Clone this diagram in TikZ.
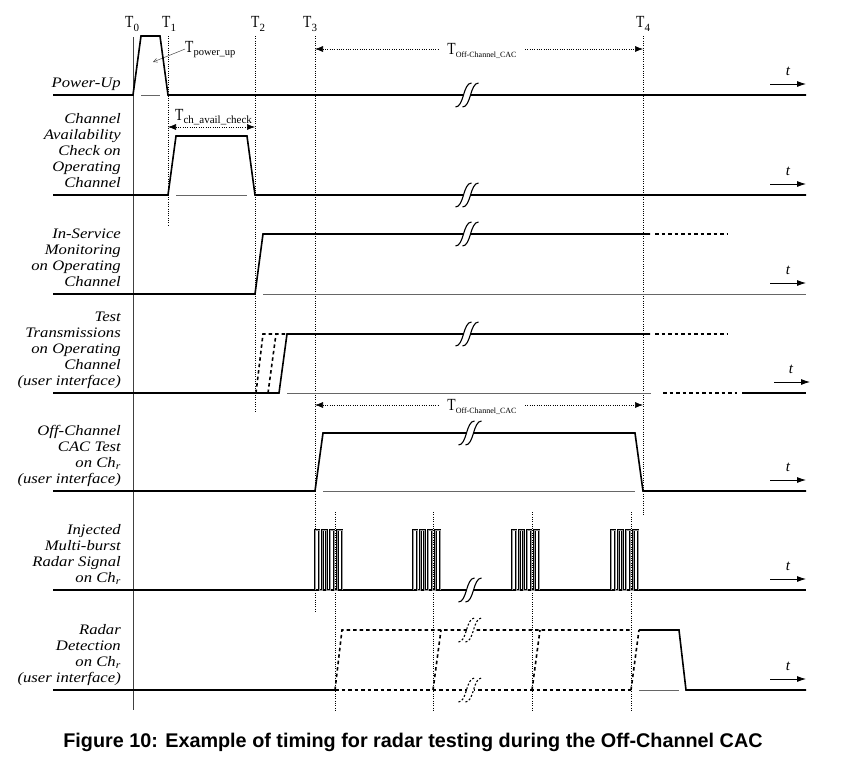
\documentclass[tikz,border=0pt]{standalone}
\usepackage{fontspec}
\setmainfont{Liberation Serif}
\newfontfamily\lblfont[FakeStretch=1.15]{Liberation Serif}
\newfontfamily\tfont[FakeStretch=0.8]{Liberation Serif}
\newfontfamily\capfont{Liberation Sans}
\usetikzlibrary{arrows.meta}
\newcommand\Tlab[3]{{\tfont\fontsize{17}{17}\selectfont T}\raisebox{-#2}{\fontsize{#1}{#1}\selectfont #3}}
\tikzset{
  sig/.style={line width=1.6pt},
  thinl/.style={line width=0.6pt, black!60},
  dotl/.style={line width=0.7pt, dash pattern=on 1pt off 1.3pt},
  dsh/.style={line width=1.6pt, dash pattern=on 3.5pt off 3pt},
  pulse/.style={line width=0.8pt, double=black!40, double distance=0.6pt},
  tarrow/.style={line width=0.8pt, -{Latex[length=9pt,width=6pt]}},
  dotarrow/.style={line width=0.6pt, dash pattern=on 1pt off 1.3pt, {Latex[length=8pt,width=6pt]}-{Latex[length=8pt,width=6pt]}},
  lbl/.style={anchor=south east, align=right, inner sep=0pt, font=\lblfont\itshape\fontsize{14.5}{16}\selectfont},
  tl/.style={anchor=base west, inner sep=0pt},
  tvar/.style={font=\itshape\fontsize{15}{15}\selectfont, inner sep=0pt},
  brkdash/.style={dash pattern=on 2pt off 2pt},
  pics/brk/.style={code={
    \fill[white] (-3.5,-1.4) rectangle (3.5,1.4);
    \draw[line width=1.1pt] (-11.5,12) .. controls (-3,12) and (-4,-12) .. (4.5,-12);
    \draw[line width=1.1pt] (-4.5,12) .. controls (4,12) and (3,-12) .. (11.5,-12);
  }},
  pics/burst/.style={code={
    \draw[pulse] (0,0) -- (0,-60) -- (4,-60) -- (4,0) -- (7.5,0) -- (7.5,-60) -- (11.5,-60) -- (11.5,0)
      -- (15,0) -- (15,-60) -- (19,-60) -- (19,0) -- (22.5,0) -- (22.5,-60) -- (27,-60) -- (27,0);
  }}
}
\begin{document}
\begin{tikzpicture}[x=1pt,y=-1pt]
\path[use as bounding box] (0,0) rectangle (855,763);

% time markers
\node[tl] (t0) at (125,27) {\Tlab{11}{4pt}{0}};
\node[tl] (t1) at (162,27) {\Tlab{11}{4pt}{1}};
\node[tl] (t2) at (251,27) {\Tlab{11}{4pt}{2}};
\node[tl] (t3) at (303,27) {\Tlab{11}{4pt}{3}};
\node[tl] (t4) at (636,27) {\Tlab{11}{4pt}{4}};

\draw[line width=0.7pt, black!75] (133,37) -- (133,710);
\draw[dotl] (168,36) -- (168,225);
\draw[dotl] (255,36) -- (255,413);
\draw[dotl] (315,36) -- (315,613);
\draw[dotl] (643,36) -- (643,515);
\foreach \x in {335,433,532,631} \draw[dotl] (\x,512) -- (\x,712);

% duration annotations
\coordinate (oc1a) at (315,49); \coordinate (oc1b) at (643,49);
\draw[dotarrow] (oc1a) -- (oc1b);
\node[anchor=base, fill=white, inner xsep=8pt, inner ysep=1pt] (toc1) at (482,54) {\Tlab{8}{3pt}{Off-Channel\_CAC}};
\coordinate (oc2a) at (315,405); \coordinate (oc2b) at (643,405);
\draw[dotarrow] (oc2a) -- (oc2b);
\node[anchor=base, fill=white, inner xsep=8pt, inner ysep=1pt] (toc2) at (482,410) {\Tlab{8}{3pt}{Off-Channel\_CAC}};
\coordinate (ch1) at (168,127); \coordinate (ch2) at (255,127);
\draw[dotarrow] (ch1) -- (ch2);
\node[tl] (tch) at (175,120) {\Tlab{11}{3pt}{ch\_avail\_check}};
\node[tl] (tpu) at (185,52) {\Tlab{10.5}{3pt}{power\_up}};
\coordinate (pu) at (153,62);
\draw[line width=0.5pt, black!70, -{Straight Barb[length=4pt,width=4pt]}] (tpu.west) -- (pu);

% row labels
\node[lbl] (l1) at (121,92.8) {Power-Up\strut};
\node[lbl] (l2) at (121,192.8) {Channel\\Availability\\Check on\\Operating\\Channel\strut};
\node[lbl] (l3) at (121,291.8) {In-Service\\Monitoring\\on Operating\\Channel\strut};
\node[lbl] (l4) at (121,390.8) {Test\\Transmissions\\on Operating\\Channel\\(user interface)\strut};
\node[lbl] (l5) at (121,488.8) {Off-Channel\\CAC Test\\on Ch\textsubscript{r}\\(user interface)\strut};
\node[lbl] (l6) at (121,587.8) {Injected\\Multi-burst\\Radar Signal\\on Ch\textsubscript{r}\strut};
\node[lbl] (l7) at (121,687.8) {Radar\\Detection\\on Ch\textsubscript{r}\\(user interface)\strut};

% row 1 power-up
\draw[sig] (53,95) -- (133,95) -- (141,36) -- (160,36) -- (168,95) -- (806,95);
\draw[thinl] (141,95) -- (160,95);
\pic at (467,95) {brk};

% row 2 CAC
\draw[sig] (53,195) -- (168,195) -- (176,136) -- (247,136) -- (255,195) -- (806,195);
\draw[thinl] (176,195) -- (247,195);
\pic at (467,195) {brk};

% row 3 ISM
\draw[thinl] (263,294) -- (806,294);
\draw[sig] (53,294) -- (255,294) -- (263,234) -- (650,234);
\draw[dsh] (655,234) -- (728,234);
\pic at (467,234) {brk};

% row 4 test transmissions
\draw[thinl] (287,393) -- (651,393);
\draw[dsh] (256,393) -- (263,334) -- (287,334);
\draw[dsh] (268,393) -- (276,334);
\draw[sig] (53,393) -- (279,393) -- (287,334) -- (650,334);
\draw[dsh] (655,334) -- (728,334);
\draw[dsh] (663,393) -- (737,393);
\draw[sig] (742,393) -- (806,393);
\pic at (467,334) {brk};

% row 5 off-channel CAC
\draw[thinl] (323,491) -- (635,491);
\draw[sig] (53,491) -- (315,491) -- (323,433) -- (635,433) -- (643,491) -- (806,491);
\pic at (470,433) {brk};

% row 6 bursts
\draw[sig] (53,590) -- (806,590);
\foreach \b in {315,413,512,611} \pic at (\b,590) {burst};
\pic at (470,590) {brk};

% row 7 radar detection
\draw[sig] (53,690) -- (335,690);
\draw[dsh] (335,690) -- (342,630) -- (631,630);
\draw[dsh] (335,690) -- (631,690);
\draw[dsh] (433,690) -- (441,630);
\draw[dsh] (532,690) -- (540,630);
\draw[dsh] (631,690) -- (639,630);
\draw[thinl] (639,690) -- (679,690);
\draw[sig] (639,630) -- (679,630) -- (686,690) -- (806,690);
\pic[brkdash] at (470,630) {brk};
\pic[brkdash] at (470,690) {brk};

% time axes
\foreach \b/\n in {95/a,195/b,294/c,491/e,590/f,690/g} {
  \coordinate (ta\n) at (770,\b-11); \coordinate (tb\n) at (806,\b-11);
  \draw[tarrow] (ta\n) -- (tb\n);
  \node[tvar] (tt\n) at (788,\b-24) {t};
}
\coordinate (tad) at (774,382); \coordinate (tbd) at (810,382);
\draw[tarrow] (tad) -- (tbd);
\node[tvar] (ttd) at (791,369) {t};

% caption
\node[font=\capfont\bfseries\fontsize{19.8}{20}\selectfont, inner sep=0pt] (cap) at (413,742)
  {Figure 10: Example of timing for radar testing during the Off-Channel CAC};
\end{tikzpicture}
\end{document}
